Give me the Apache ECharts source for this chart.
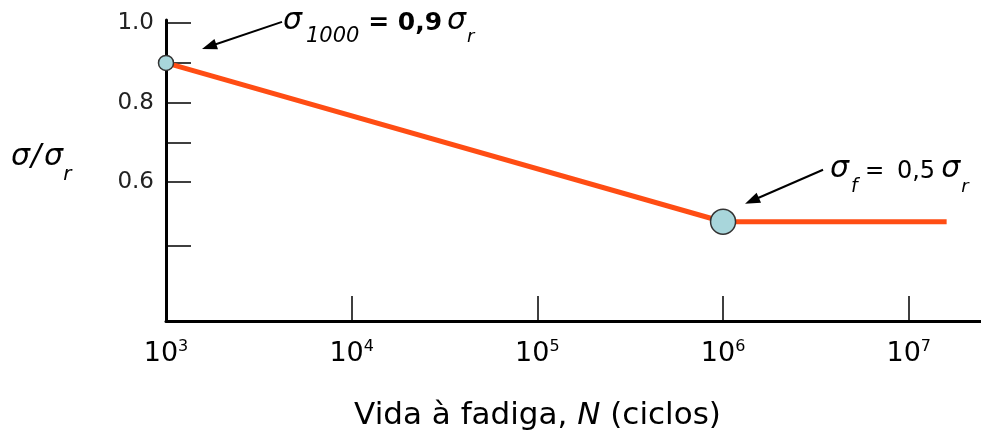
<!DOCTYPE html>
<html><head><meta charset="utf-8">
<script src="https://cdn.jsdelivr.net/npm/echarts@6/dist/echarts.min.js"></script>
<style>html,body{margin:0;padding:0;background:#fff}#c{width:981px;height:432px}</style>
</head><body><div id="c"></div>
<script>
// ---- data ----
const cycles = [1000, 1000000, 16000000];
const stressRatio = [0.9, 0.5, 0.5];
const markerCycles = [1000, 1000000];
const markerRatio = [0.9, 0.5];
const markerSizes = [15, 25];
const xTickValues = [1e3, 1e4, 1e5, 1e6, 1e7];
const xTickExponents = ['3', '4', '5', '6', '7'];
const yTickValues = [0.44, 0.6, 0.7, 0.8, 0.9, 1.0];
const yLabelValues = [0.6, 0.8, 1.0];

const FONT = 'DejaVu Sans';
const chart = echarts.init(document.getElementById('c'), null, {renderer: 'canvas'});

chart.setOption({
  animation: false,
  backgroundColor: '#fff',
  grid: {left: 166, right: 0, top: 20, bottom: 111, containLabel: false},
  xAxis: {
    type: 'log', logBase: 10, min: 1000, max: 2.45e7,
    axisLine: {onZero: false, lineStyle: {color: '#000', width: 3}},
    axisTick: {inside: true, length: 25, lineStyle: {color: '#000', width: 1.5}, customValues: xTickValues},
    splitLine: {show: false}, minorTick: {show: false},
    axisLabel: {
      customValues: xTickValues, margin: 18,
      formatter: v => {
        const i = xTickValues.findIndex(t => Math.abs(t - v) / t < 1e-6);
        return '{b|10}{e|' + (i >= 0 ? xTickExponents[i] : '') + '}';
      },
      rich: {
        b: {fontFamily: FONT, fontSize: 27, lineHeight: 30, color: '#000'},
        e: {fontFamily: FONT, fontSize: 16, lineHeight: 16, verticalAlign: 'top', color: '#000'}
      }
    }
  },
  yAxis: {
    type: 'value', min: 0.25, max: 1.008,
    axisLine: {show: true, onZero: false, lineStyle: {color: '#000', width: 3}},
    axisTick: {show: true, inside: true, length: 25, lineStyle: {color: '#000', width: 1.5}, customValues: yTickValues},
    splitLine: {show: false},
    axisLabel: {customValues: yLabelValues, margin: 12, fontFamily: FONT, fontSize: 23, color: '#222',
      formatter: v => v.toFixed(1)}
  },
  series: [
    {
      type: 'line', data: cycles.map((c, i) => [c, stressRatio[i]]),
      symbol: 'none', lineStyle: {color: '#ff4d14', width: 5}, z: 2
    },
    {
      type: 'scatter', z: 3,
      data: markerCycles.map((c, i) => ({value: [c, markerRatio[i]], symbolSize: markerSizes[i]})),
      itemStyle: {color: '#a8d6db', borderColor: '#333', borderWidth: 1.5, opacity: 1}
    }
  ]
});

// ---- annotations (text as real text) ----
const ctx = document.createElement('canvas').getContext('2d');
function fontStr(p) { return (p.italic ? 'italic ' : '') + (p.bold ? 'bold ' : '') + p.size + 'px "' + FONT + '"'; }
function run(parts, x, baseline, center) {
  let total = 0;
  parts.forEach(p => { p.font = fontStr(p); ctx.font = p.font; p.w = ctx.measureText(p.text).width + (p.gap || 0); total += p.w; });
  let cx = center ? x - total / 2 : x;
  return parts.map(p => {
    const el = {type: 'text', silent: true, z: 10, style: {
      text: p.text, x: cx, y: baseline + (p.dy || 0) - 0.346 * p.size, font: p.font, fill: '#000',
      textAlign: 'left', align: 'left', textVerticalAlign: 'middle', verticalAlign: 'middle'}};
    cx += p.w;
    return el;
  });
}
function arrow(x1, y1, x2, y2) {
  const dx = x2 - x1, dy = y2 - y1, L = Math.hypot(dx, dy), ux = dx / L, uy = dy / L;
  const hl = 15, hw = 5.5, bx = x2 - ux * hl, by = y2 - uy * hl;
  return [
    {type: 'line', silent: true, z: 10, shape: {x1: x1, y1: y1, x2: bx + ux * 2, y2: by + uy * 2}, style: {stroke: '#000', lineWidth: 2}},
    {type: 'polygon', silent: true, z: 10, shape: {points: [[x2, y2], [bx - uy * hw, by + ux * hw], [bx + uy * hw, by - ux * hw]]}, style: {fill: '#000'}}
  ];
}

const p1 = chart.convertToPixel({seriesIndex: 1}, [markerCycles[0], markerRatio[0]]);
const p2 = chart.convertToPixel({seriesIndex: 1}, [markerCycles[1], markerRatio[1]]);

let g = [];
g = g.concat(arrow(p1[0] + 116, p1[1] - 41, p1[0] + 36, p1[1] - 14));
g = g.concat(run([
  {text: 'σ', italic: true, size: 30, gap: 4},
  {text: '1000', italic: true, size: 21, dy: 12},
  {text: ' =', bold: true, size: 25},
  {text: ' 0,9', bold: true, size: 25, gap: 5},
  {text: 'σ', italic: true, size: 30, gap: 1},
  {text: 'r', italic: true, size: 18, dy: 12}
], p1[0] + 117, p1[1] - 31));

g = g.concat(arrow(p2[0] + 100, p2[1] - 52, p2[0] + 22, p2[1] - 18));
g = g.concat(run([
  {text: 'σ', italic: true, size: 30, gap: 2},
  {text: 'f', italic: true, size: 19, dy: 14},
  {text: ' =', size: 23, gap: 5},
  {text: ' 0,5', size: 24, gap: 6},
  {text: 'σ', italic: true, size: 30, gap: 1},
  {text: 'r', italic: true, size: 18, dy: 14}
], p2[0] + 107, p2[1] - 42));

// y axis name
g = g.concat(run([
  {text: 'σ', italic: true, size: 30, gap: 1},
  {text: '/', italic: true, size: 30, gap: 3},
  {text: 'σ', italic: true, size: 30, gap: 0},
  {text: 'r', italic: true, size: 20, dy: 14}
], 11, 168));

// x axis name
g = g.concat(run([
  {text: 'Vida à fadiga, ', size: 31},
  {text: 'N', italic: true, size: 31},
  {text: ' (ciclos)', size: 31}
], 537.5, 426.5, true));

chart.setOption({graphic: g});
</script>
</body></html>
